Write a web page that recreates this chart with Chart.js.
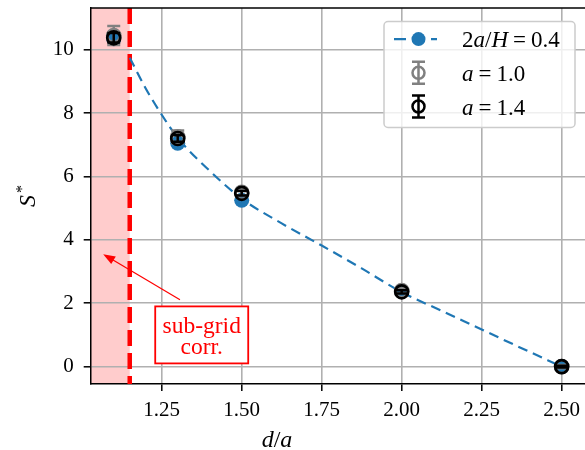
<!DOCTYPE html>
<html lang="en">
<head>
    <meta charset="UTF-8">
    <title>S* frente a d/a</title>
    <script src="https://cdn.jsdelivr.net/npm/chart.js@4"></script>
    <style>
        body { margin: 0; background: #fff; }
    </style>
</head>
<body>
    <canvas id="grafico" width="585" height="450"></canvas>

    <script>
        // Datos
        const xPuntos = [1.1, 1.3, 1.5, 2.0, 2.5];
        const sAzul = [10.35, 7.05, 5.25, 2.38, 0.0];      // 2a/H = 0.4
        const sA10 = [10.45, 7.25, 5.5, 2.4, 0.0];         // a = 1.0
        const errA10 = [0.3, 0.2, 0.1, 0.08, 0.05];
        const sA14 = [10.38, 7.2, 5.47, 2.36, 0.0];        // a = 1.4
        const errA14 = [0.15, 0.1, 0.07, 0.05, 0.03];

        // curva discontinua
        const xCurva = [1.15, 1.2, 1.25, 1.3, 1.4, 1.5, 1.625, 1.75, 1.875, 2.0, 2.125, 2.25, 2.375, 2.5];
        const sCurva = [9.75, 8.78, 7.95, 7.22, 6.18, 5.3, 4.52, 3.82, 3.1, 2.35, 1.76, 1.17, 0.58, 0.0];

        const xTicks = [1.25, 1.5, 1.75, 2.0, 2.25, 2.5];
        const yTicks = [0, 2, 4, 6, 8, 10];
        const xCorte = 1.15;   // límite sub-grid

        const SERIF = '"Liberation Serif", "DejaVu Serif", serif';
        const AZUL = '#1f77b4';
        const GRIS = '#808080';

        // posición de la anotación (en coordenadas de datos)
        const anotacion = { texto: ['sub-grid', 'corr.'], x: 1.375, y: 1.0, flechaDesde: [1.307, 2.11], flechaHasta: [1.067, 3.55] };

        function puntos(xs, ys) {
            return xs.map((x, i) => ({ x: x, y: ys[i] }));
        }

        // dibuja texto con partes en cursiva
        function textoMixto(ctx, partes, x, y, size) {
            partes.forEach(p => {
                ctx.font = (p[1] ? 'italic ' : '') + size + 'px ' + SERIF;
                ctx.fillText(p[0], x, y);
                x += ctx.measureText(p[0]).width + (p[2] || 0);
            });
            return x;
        }
        function anchoMixto(ctx, partes, size) {
            let w = 0;
            partes.forEach(p => {
                ctx.font = (p[1] ? 'italic ' : '') + size + 'px ' + SERIF;
                w += ctx.measureText(p[0]).width + (p[2] || 0);
            });
            return w;
        }

        function barraError(ctx, px, yA, yB, color) {
            ctx.strokeStyle = color;
            ctx.lineWidth = 2.5;
            ctx.beginPath();
            ctx.moveTo(px, yA); ctx.lineTo(px, yB);
            ctx.moveTo(px - 6.5, yA); ctx.lineTo(px + 6.5, yA);
            ctx.moveTo(px - 6.5, yB); ctx.lineTo(px + 6.5, yB);
            ctx.stroke();
        }

        const extras = {
            id: 'extras',
            beforeDraw(chart) {
                const { ctx, chartArea: a, scales: { x } } = chart;
                ctx.save();
                ctx.fillStyle = '#fff';
                ctx.fillRect(0, 0, chart.width, chart.height);
                ctx.fillStyle = 'rgba(255, 0, 0, 0.2)';
                ctx.fillRect(a.left, a.top, x.getPixelForValue(xCorte) - a.left, a.bottom - a.top);
                ctx.restore();
            },
            beforeDatasetsDraw(chart) {
                const { ctx, chartArea: a, scales: { x } } = chart;
                const px = x.getPixelForValue(xCorte);
                ctx.save();
                ctx.strokeStyle = '#ff0000';
                ctx.lineWidth = 4.5;
                ctx.setLineDash([16, 7]);
                ctx.beginPath();
                ctx.moveTo(px, a.top); ctx.lineTo(px, a.bottom);
                ctx.stroke();
                ctx.setLineDash([]);
                ctx.strokeStyle = '#000';
                ctx.lineWidth = 1.5;
                ctx.beginPath();
                ctx.moveTo(a.left, a.top); ctx.lineTo(a.right, a.top);
                ctx.stroke();
                ctx.restore();
            },
            beforeDatasetDraw(chart, args) {
                const ds = chart.data.datasets[args.index];
                if (!ds.errores) return;
                const { ctx, scales: { x, y } } = chart;
                ctx.save();
                ds.data.forEach((p, i) => {
                    barraError(ctx, x.getPixelForValue(p.x),
                        y.getPixelForValue(p.y - ds.errores[i]),
                        y.getPixelForValue(p.y + ds.errores[i]), ds.borderColor);
                });
                ctx.restore();
            },
            afterDatasetsDraw(chart) {
                const { ctx, scales: { x, y } } = chart;
                ctx.save();
                // flecha
                const x0 = x.getPixelForValue(anotacion.flechaDesde[0]), y0 = y.getPixelForValue(anotacion.flechaDesde[1]);
                const x1 = x.getPixelForValue(anotacion.flechaHasta[0]), y1 = y.getPixelForValue(anotacion.flechaHasta[1]);
                const ang = Math.atan2(y1 - y0, x1 - x0);
                ctx.strokeStyle = '#ff0000';
                ctx.fillStyle = '#ff0000';
                ctx.lineWidth = 1.2;
                ctx.beginPath();
                ctx.moveTo(x0, y0);
                ctx.lineTo(x1 - 10 * Math.cos(ang), y1 - 10 * Math.sin(ang));
                ctx.stroke();
                ctx.beginPath();
                ctx.moveTo(x1, y1);
                ctx.lineTo(x1 - 12 * Math.cos(ang) + 4.5 * Math.sin(ang), y1 - 12 * Math.sin(ang) - 4.5 * Math.cos(ang));
                ctx.lineTo(x1 - 12 * Math.cos(ang) - 4.5 * Math.sin(ang), y1 - 12 * Math.sin(ang) + 4.5 * Math.cos(ang));
                ctx.closePath();
                ctx.fill();

                // caja con texto
                const cx = x.getPixelForValue(anotacion.x), cy = y.getPixelForValue(anotacion.y);
                ctx.fillStyle = '#fff';
                ctx.fillRect(cx - 46.5, cy - 28.5, 93, 57);
                ctx.lineWidth = 1.8;
                ctx.strokeRect(cx - 46.5, cy - 28.5, 93, 57);
                ctx.fillStyle = '#ff0000';
                ctx.font = '23.5px ' + SERIF;
                ctx.textAlign = 'center';
                ctx.textBaseline = 'alphabetic';
                ctx.fillText(anotacion.texto[0], cx, cy - 2);
                ctx.fillText(anotacion.texto[1], cx, cy + 19);
                ctx.restore();
            },
            afterDraw(chart) {
                const { ctx, chartArea: a } = chart;
                ctx.save();
                ctx.fillStyle = '#000';
                ctx.textBaseline = 'alphabetic';

                // título eje x
                const partesX = [['d', true], ['/', false], ['a', true]];
                const wx = anchoMixto(ctx, partesX, 24);
                textoMixto(ctx, partesX, 277 - wx / 2, 447, 24);

                // título eje y
                ctx.translate(26.5, 199);
                ctx.rotate(-Math.PI / 2);
                ctx.font = 'italic 24px ' + SERIF;
                const ws = ctx.measureText('S').width;
                ctx.fillText('S', -ws / 2 - 2, 8);
                ctx.font = '16px ' + SERIF;
                ctx.fillText('*', ws / 2, 0);
                ctx.setTransform(1, 0, 0, 1, 0, 0);

                // leyenda
                const L = a.right - 10 - 191, T = a.top + 13.5;
                ctx.fillStyle = 'rgba(255,255,255,0.8)';
                ctx.strokeStyle = '#cccccc';
                ctx.lineWidth = 1.5;
                ctx.beginPath();
                ctx.roundRect(L, T, 191, 106, 4);
                ctx.fill();
                ctx.stroke();

                const hx = L + 34.5;
                const filas = [T + 17.6, T + 51.3, T + 85];
                // fila 1
                ctx.strokeStyle = AZUL;
                ctx.lineWidth = 2.2;
                ctx.beginPath();
                ctx.moveTo(L + 10, filas[0]); ctx.lineTo(L + 22, filas[0]);
                ctx.moveTo(L + 47, filas[0]); ctx.lineTo(L + 53, filas[0]);
                ctx.stroke();
                ctx.fillStyle = AZUL;
                ctx.beginPath();
                ctx.arc(hx, filas[0], 7, 0, Math.PI * 2);
                ctx.fill();
                // filas 2 y 3
                [[GRIS, filas[1]], ['#000', filas[2]]].forEach(f => {
                    barraError(ctx, hx, f[1] - 11, f[1] + 11, f[0]);
                    ctx.lineWidth = 2.5;
                    ctx.beginPath();
                    ctx.arc(hx, f[1], 6, 0, Math.PI * 2);
                    ctx.stroke();
                });

                ctx.fillStyle = '#000';
                const tx = L + 78;
                textoMixto(ctx, [['2', false], ['a', true], ['/', false], ['H', true, 5], ['=', false, 5], ['0.4', false]], tx, filas[0] + 8, 23);
                textoMixto(ctx, [['a', true, 5], ['=', false, 5], ['1.0', false]], tx, filas[1] + 8, 23);
                textoMixto(ctx, [['a', true, 5], ['=', false, 5], ['1.4', false]], tx, filas[2] + 8, 23);
                ctx.restore();
            }
        };

        const ctx = document.getElementById('grafico').getContext('2d');
        const chart = new Chart(ctx, {
            type: 'scatter',
            data: {
                datasets: [
                    {
                        label: 'a = 1.4',
                        data: puntos(xPuntos, sA14),
                        errores: errA14,
                        borderColor: '#000',
                        backgroundColor: 'rgba(0,0,0,0)',
                        pointRadius: 6.5,
                        pointBorderWidth: 2.7,
                        showLine: false
                    },
                    {
                        label: 'a = 1.0',
                        data: puntos(xPuntos, sA10),
                        errores: errA10,
                        borderColor: GRIS,
                        backgroundColor: 'rgba(0,0,0,0)',
                        pointRadius: 6.5,
                        pointBorderWidth: 2.7,
                        showLine: false
                    },
                    {
                        label: '2a/H = 0.4',
                        data: puntos(xPuntos, sAzul),
                        borderColor: AZUL,
                        backgroundColor: AZUL,
                        pointRadius: 7.5,
                        pointBorderWidth: 0,
                        showLine: false
                    },
                    {
                        label: 'curva',
                        data: puntos(xCurva, sCurva),
                        borderColor: AZUL,
                        borderWidth: 2.2,
                        borderDash: [10, 6],
                        pointRadius: 0,
                        showLine: true,
                        cubicInterpolationMode: 'monotone'
                    }
                ]
            },
            options: {
                responsive: false,
                animation: false,
                layout: { autoPadding: false, padding: { top: 8, right: 0, left: 0, bottom: 0 } },
                plugins: {
                    legend: { display: false },
                    tooltip: { enabled: false }
                },
                scales: {
                    x: {
                        type: 'linear',
                        min: 1.028,
                        max: 2.573,
                        afterBuildTicks: s => { s.ticks = xTicks.map(v => ({ value: v })); },
                        afterFit: s => { s.height = 66; s.paddingLeft = 0; s.paddingRight = 0; },
                        ticks: {
                            callback: v => v.toFixed(2),
                            font: { family: SERIF, size: 21 },
                            color: '#000',
                            padding: 7,
                            maxRotation: 0
                        },
                        grid: { color: '#b0b0b0', lineWidth: 1.6, tickColor: '#000', tickLength: 7, tickWidth: 1.5 },
                        border: { display: true, color: '#000', width: 1.5 }
                    },
                    y: {
                        type: 'linear',
                        min: -0.55,
                        max: 11.32,
                        afterBuildTicks: s => { s.ticks = yTicks.map(v => ({ value: v })); },
                        afterFit: s => { s.width = 90.7; s.paddingTop = 0; s.paddingBottom = 0; },
                        ticks: {
                            font: { family: SERIF, size: 21 },
                            color: '#000',
                            padding: 10
                        },
                        grid: { color: '#b0b0b0', lineWidth: 1.6, tickColor: '#000', tickLength: 7, tickWidth: 1.5 },
                        border: { display: true, color: '#000', width: 1.5 }
                    }
                }
            },
            plugins: [extras]
        });
    </script>
</body>
</html>
